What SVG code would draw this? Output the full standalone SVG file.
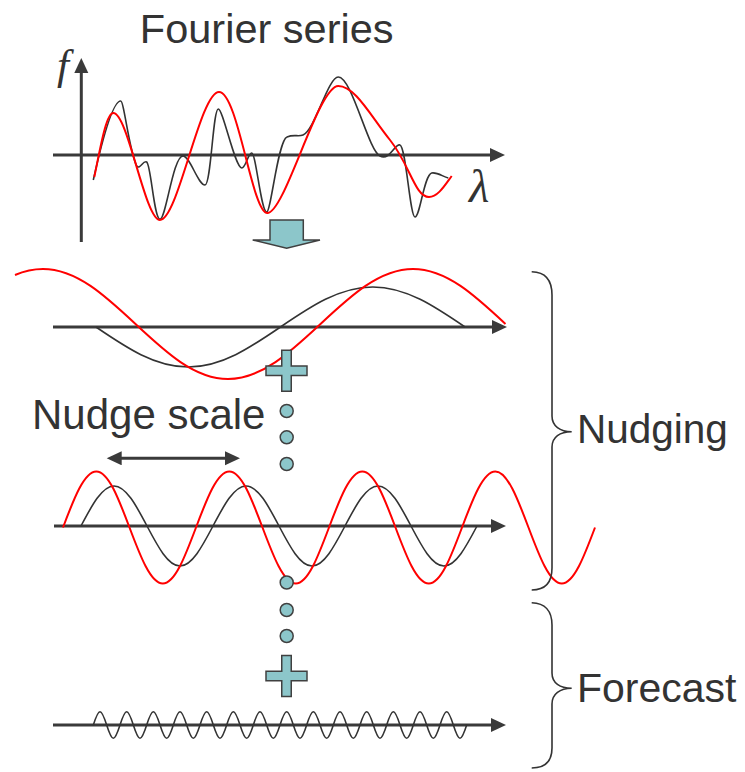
<svg xmlns="http://www.w3.org/2000/svg" width="745" height="772" viewBox="0 0 745 772">
<style>
.txt{font-family:"Liberation Sans",Arial,sans-serif;fill:#333333;}
.sym{font-family:"Liberation Serif","Times New Roman",serif;font-style:italic;fill:#333333;}
.axis{stroke:#3a3a3a;stroke-width:3;fill:none;marker-end:url(#ah);}
.blk{stroke:#333333;stroke-width:1.6;fill:none;}
.red{stroke:#ff0000;stroke-width:2;fill:none;}
.teal{fill:#8cc6ca;stroke:#404040;stroke-width:1.5;}
.brace{stroke:#333333;stroke-width:1.6;fill:none;}
</style>
<defs>
<marker id="ah" markerUnits="userSpaceOnUse" markerWidth="16" markerHeight="16" refX="5" refY="7" orient="auto">
<path d="M0,0 L15,7 L0,14 Z" fill="#3a3a3a"/>
</marker>
<marker id="ahs" markerUnits="userSpaceOnUse" markerWidth="16" markerHeight="16" refX="5" refY="7" orient="auto-start-reverse">
<path d="M0,0 L15,7 L0,14 Z" fill="#3a3a3a"/>
</marker>
<path id="plus" d="M-4.75,-20.5 h9.5 v15.75 h15.75 v9.5 h-15.75 v15.75 h-9.5 v-15.75 h-15.75 v-9.5 h15.75 z"/>
<path id="period" class="blk" stroke-linecap="round" d="M0,0 C2.17,-6.8 4.26,-13.3 6.667,-13.3 C9.08,-13.3 11.17,-6.8 13.333,0 C15.5,6.8 17.59,13.3 20,13.3 C22.41,13.3 24.5,6.8 26.667,0"/>
</defs>
<rect width="745" height="772" fill="#ffffff"/>

<g id="title">
<text class="txt" x="266.7" y="42.5" font-size="41.5" text-anchor="middle">Fourier series</text>
</g>

<g id="fourier-plot">
<line class="axis" x1="81.3" y1="242" x2="81.3" y2="68"/>
<line class="axis" x1="53" y1="155" x2="495" y2="155"/>
<text class="sym" x="57" y="79" font-size="43">f</text>
<text class="sym" x="469" y="201.5" font-size="47">λ</text>
<path class="blk" d="M93.3,180 C100,150 112,101 120.7,101 C124,101 129,150 136.7,166 C140,170 143,160 146.7,162 C151,165 154,219 160,219.3 C166,219 173,156 183,156 C190,156 198,185 205,185 C211,185 213,109 218.3,109 C223,109 235,168 241.7,168 C246,168 248,153 251.7,153 C256,153 261,212 266.7,212 C271,212 278,140 287,137 C294,134 298,137 303,135 C315,130 328,77 338.3,77 C352,77 368,150 380,156 C390,161 395,143 400,145 C406,147 410,217 415,217 C420,217 424,175 431.7,173 C438,172 443,177 448.3,178"/>
<path class="red" d="M94.3,177 C100,150 106,113 113.3,113 C128,113 145,220 160,220 C178,220 200,92 219,92 C238,92 252,213 267.3,213 C285,213 318,86 338.3,86 C355,86 370,115 390,140 S415,197 429,197 C438,197 445,185 451.7,176"/>
</g>

<g id="mode-1">
<line class="axis" x1="53" y1="327" x2="497" y2="327"/>
<path class="blk" d="M96,327 C126.1,347.5 154.9,367 188.3,367 S250.4,347.5 280.5,327 S339.4,287 372.8,287 S434.9,306.5 465,327"/>
<path class="red" d="M15,275 C24.3,271 33.7,269 43,269 C76.5,269 105.3,295.8 135.5,324 S194.5,379 228,379 S290.3,352.2 320.5,324 S379.5,269 413,269 S475.3,295.8 505.5,324"/>
</g>

<g id="mode-2">
<line class="axis" x1="54" y1="526" x2="496" y2="526"/>
<path class="blk" d="M81,526 C91.8,505.5 102.1,486 114,486 S136.2,505.5 147,526 S168.1,566 180,566 S202.2,546.5 213,526 S234.1,486 246,486 S268.2,505.5 279,526 S300.1,566 312,566 S334.2,546.5 345,526 S366.1,486 378,486 S400.2,505.5 411,526 S432.1,566 444,566 S466.2,546.5 477,526"/>
<path class="red" d="M63,527.5 C73.8,498.8 84.2,471.5 96.3,471.5 S118.7,498.8 129.5,527.5 S150.7,583.5 162.8,583.5 S185.2,556.2 196,527.5 S217.2,471.5 229.3,471.5 S251.7,498.8 262.5,527.5 S283.7,583.5 295.8,583.5 S318.2,556.2 329,527.5 S350.2,471.5 362.3,471.5 S384.7,498.8 395.5,527.5 S416.7,583.5 428.8,583.5 S451.2,556.2 462,527.5 S483.2,471.5 495.3,471.5 S517.7,498.8 528.5,527.5 S549.7,583.5 561.8,583.5 S584.2,556.2 595,527.5"/>
</g>

<g id="mode-high">
<line class="axis" x1="53" y1="725" x2="496" y2="725"/>
<use href="#period" x="93.33" y="725"/>
<use href="#period" x="120" y="725"/>
<use href="#period" x="146.67" y="725"/>
<use href="#period" x="173.33" y="725"/>
<use href="#period" x="200" y="725"/>
<use href="#period" x="226.67" y="725"/>
<use href="#period" x="253.33" y="725"/>
<use href="#period" x="280" y="725"/>
<use href="#period" x="306.67" y="725"/>
<use href="#period" x="333.33" y="725"/>
<use href="#period" x="360" y="725"/>
<use href="#period" x="386.67" y="725"/>
<use href="#period" x="413.33" y="725"/>
<use href="#period" x="440" y="725"/>
</g>

<g id="sum-symbols">
<use href="#plus" class="teal" transform="translate(286.5,370.8)"/>
<circle class="teal" cx="286.7" cy="411" r="6.5"/>
<circle class="teal" cx="286.7" cy="437.3" r="6.5"/>
<circle class="teal" cx="286.7" cy="464" r="6.5"/>
<circle class="teal" cx="286.7" cy="582.5" r="6.5"/>
<circle class="teal" cx="286.7" cy="610" r="6.5"/>
<circle class="teal" cx="286.7" cy="636" r="6.5"/>
<use href="#plus" class="teal" transform="translate(286.5,676)"/>
</g>

<g id="nudge-scale">
<text class="txt" x="32" y="429" font-size="42">Nudge scale</text>
</g>

<g id="nudging">
<path class="brace" d="M531.7,271.7 C545,272 552,280 552,295 L552,416 C552,426 560,431.7 571.7,431.7 C560,431.7 552,437 552,447 L552,568 C552,583 545,590 531.7,590"/>
<text class="txt" x="577" y="443.3" font-size="40.5">Nudging</text>
</g>

<g id="forecast">
<path class="brace" d="M531.7,602.7 C545,603 552,611 552,625 L552,673 C552,683 560,688.3 571.7,688.3 C560,688.3 552,694 552,704 L552,748 C552,762 545,768 531.7,768"/>
<text class="txt" x="577" y="702.3" font-size="41">Forecast</text>
</g>

<g id="connectors">
<path class="teal" d="M270,220 H303.3 V240 H320 L286.7,248.3 L252.7,240 H270 Z"/>
<line x1="116.7" y1="458.3" x2="230" y2="458.3" stroke="#3a3a3a" stroke-width="3" marker-start="url(#ahs)" marker-end="url(#ahs)"/>
</g>
</svg>
